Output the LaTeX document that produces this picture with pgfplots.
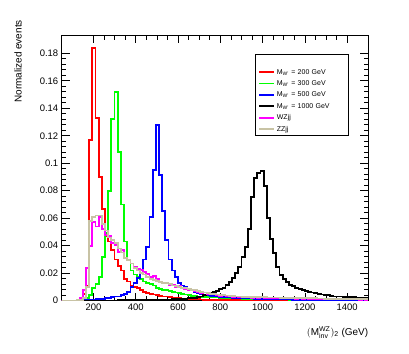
\documentclass[border=0pt]{standalone}
\usepackage{pgfplots}
\pgfplotsset{compat=1.18}
\usepackage{pgfplotstable}
\usepackage{fontspec}
\setmainfont{Liberation Sans}
\definecolor{zzcol}{RGB}{200,195,165}
\definecolor{rootgreen}{RGB}{0,255,0}
\definecolor{rootblue}{RGB}{0,0,255}
\definecolor{rootred}{RGB}{255,0,0}
\definecolor{rootmag}{RGB}{255,0,255}
\pgfplotstableread{
x r g b k wz zz
45 0 0 0 0 0 0
60 0 0 0 0 0 0
75 0 0 0 0 0 0
90 0 0 0 0 0 0
105 0.0002 0 0 0 0 0
120 0.0008 0 0 0 0.0005 0.0003
135 0.002 0 0.0001 0 0.002 0.0008
150 0.005 0.0005 0.0003 0 0.008 0.002
165 0.011 0.002 0.0004 0 0.024 0.010
180 0.117 0.004 0.0006 0 0.040 0.058
195 0.184 0.009 0.0008 0 0.0575 0.061
210 0.133 0.012 0.001 0.0001 0.054 0.062
225 0.090 0.0175 0.0012 0.0001 0.061 0.062
240 0.067 0.032 0.0015 0.0001 0.052 0.056
255 0.047 0.049 0.0017 0.0001 0.048 0.051
270 0.043 0.080 0.002 0.0002 0.047 0.046
285 0.037 0.132 0.0025 0.0002 0.042 0.044
300 0.030 0.152 0.003 0.0002 0.0406 0.042
315 0.025 0.108 0.003 0.0003 0.0357 0.038
330 0.022 0.070 0.004 0.0003 0.037 0.035
345 0.016 0.043 0.005 0.0003 0.031 0.031
360 0.014 0.030 0.0065 0.0004 0.0296 0.0296
375 0.011 0.022 0.010 0.0004 0.027 0.027
390 0.010 0.019 0.013 0.0004 0.0248 0.024
405 0.009 0.0175 0.0165 0.0005 0.023 0.022
420 0.0075 0.016 0.022 0.0005 0.0224 0.020
435 0.0065 0.014 0.030 0.0005 0.021 0.019
450 0.0055 0.013 0.039 0.0006 0.0195 0.017
465 0.005 0.012 0.061 0.0006 0.0175 0.016
480 0.0045 0.011 0.095 0.0007 0.018 0.015
495 0.004 0.009 0.128 0.0007 0.016 0.0145
510 0.0035 0.0085 0.0915 0.0008 0.0135 0.0138
525 0.003 0.008 0.065 0.0008 0.0127 0.013
540 0.003 0.0075 0.044 0.0009 0.013 0.0127
555 0.0025 0.007 0.030 0.0009 0.0114 0.012
570 0.0022 0.0065 0.022 0.001 0.0115 0.011
585 0.002 0.006 0.017 0.001 0.010 0.0105
600 0.0018 0.0055 0.0127 0.0012 0.0105 0.010
615 0.0016 0.005 0.011 0.0014 0.009 0.0095
630 0.0015 0.0045 0.010 0.0015 0.0085 0.009
645 0.0013 0.004 0.0085 0.0017 0.0077 0.0085
660 0.0012 0.0035 0.0077 0.0018 0.008 0.008
675 0.0011 0.0032 0.0065 0.002 0.007 0.0075
690 0.001 0.003 0.0055 0.0025 0.006 0.007
705 0.0009 0.0028 0.005 0.003 0.0055 0.0065
720 0.0008 0.0027 0.0045 0.004 0.006 0.006
735 0.0008 0.0026 0.004 0.0045 0.005 0.0055
750 0.0007 0.0025 0.0035 0.0055 0.0045 0.005
765 0.0007 0.0024 0.0032 0.0066 0.005 0.0048
780 0.0006 0.0023 0.003 0.007 0.004 0.0045
795 0.0006 0.0022 0.0027 0.0084 0.0035 0.0042
810 0.0005 0.0021 0.0025 0.0095 0.004 0.004
825 0.0005 0.002 0.0024 0.0114 0.003 0.0038
840 0.0005 0.0019 0.0023 0.0138 0.0032 0.0035
855 0.0004 0.0018 0.0022 0.0163 0.0028 0.0033
870 0.0004 0.0017 0.0021 0.020 0.003 0.003
885 0.0004 0.0016 0.002 0.0247 0.0025 0.003
900 0.0003 0.0015 0.0019 0.032 0.0027 0.0029
915 0.0003 0.0015 0.0018 0.039 0.0024 0.0028
930 0.0003 0.0014 0.0017 0.052 0.0026 0.0028
945 0.0003 0.0013 0.0016 0.0757 0.0022 0.0027
960 0.0002 0.0013 0.0015 0.089 0.0025 0.0026
975 0.0002 0.0012 0.0014 0.093 0.002 0.0026
990 0.0002 0.0012 0.0013 0.0946 0.0024 0.0025
1005 0.0002 0.0011 0.0012 0.0835 0.002 0.0025
1020 0.0002 0.0011 0.0012 0.060 0.0022 0.0024
1035 0.0002 0.001 0.0011 0.045 0.0019 0.0024
1050 0.0001 0.001 0.0011 0.0345 0.0021 0.0023
1065 0.0001 0.001 0.001 0.0247 0.0018 0.0023
1080 0.0001 0.0009 0.001 0.0187 0.002 0.0022
1095 0.0001 0.0009 0.0009 0.0155 0.0017 0.0022
1110 0.0001 0.0009 0.0009 0.0138 0.0019 0.0021
1125 0.0001 0.0008 0.0009 0.0114 0.0016 0.0021
1140 0.0001 0.0008 0.0008 0.0105 0.0018 0.002
1155 0.0001 0.0008 0.0008 0.009 0.0015 0.002
1170 0.0001 0.0007 0.0008 0.0085 0.0017 0.0019
1185 0.0001 0.0007 0.0007 0.008 0.0014 0.0019
1200 0.0001 0.0007 0.0007 0.007 0.0016 0.0018
1215 0.0001 0.0006 0.0007 0.0065 0.0013 0.0018
1230 0.0001 0.0006 0.0006 0.006 0.0015 0.0017
1245 0.0001 0.0006 0.0006 0.0055 0.0012 0.0017
1260 0.0001 0.0006 0.0006 0.005 0.0014 0.0016
1275 0.0001 0.0005 0.0006 0.0045 0.0012 0.0016
1290 0 0.0005 0.0005 0.004 0.0013 0.0015
1305 0 0.0005 0.0005 0.004 0.0011 0.0015
1320 0 0.0005 0.0005 0.0035 0.0013 0.0014
1335 0 0.0005 0.0005 0.003 0.001 0.0014
1350 0 0.0004 0.0004 0.003 0.0012 0.0013
1365 0 0.0004 0.0004 0.003 0.001 0.0013
1380 0 0.0004 0.0004 0.0028 0.0011 0.0012
1395 0 0.0004 0.0004 0.0027 0.0009 0.0012
1410 0 0.0004 0.0004 0.0025 0.0011 0.0012
1425 0 0.0004 0.0004 0.0025 0.0009 0.0011
1440 0 0.0003 0.0003 0.0023 0.001 0.0011
1455 0 0.0003 0.0003 0.002 0.0008 0.001
1470 0 0.0003 0.0003 0.002 0.001 0.001
1485 0 0.0003 0.0003 0.0018 0.0008 0.001
1500 0 0.0003 0.0003 0.0018 0.0008 0.001
}\histdata

\begin{document}
\begin{tikzpicture}
\path[use as bounding box] (-61.7bp,-53.3bp) rectangle (347.3bp,300.7bp);
\begin{axis}[
  scale only axis, width=306.6bp, height=265.7bp,
  xmin=50, xmax=1500, ymin=0, ymax=0.1933,
  xtick={200,400,600,800,1000,1200,1400},
  ytick={0,0.02,0.04,0.06,0.08,0.1,0.12,0.14,0.16,0.18},
  minor x tick num=3, minor y tick num=4,
  tick align=inside, xtick pos=both, ytick pos=both,
  major tick length=8bp, minor tick length=4.5bp,
  tick style={black, line width=0.6bp},
  axis line style={line width=0.8bp},
  /pgf/number format/assume math mode=true,
  /pgf/number format/1000 sep={},
  tick label style={font=\fontsize{9.5}{10}\selectfont},
  yticklabel style={/pgf/number format/fixed, /pgf/number format/precision=2},
  scaled y ticks=false, scaled x ticks=false,
  xlabel={$(\mathrm{M}^{\mathrm{WZ}}_{\mathrm{inv}})_{\mathrm{2}}$ (GeV)},
  xlabel style={font=\fontsize{10}{12}\selectfont, at={(axis description cs:1.0108,-0.085)}, anchor=north east},
  ylabel={Normalized events},
  ylabel style={font=\fontsize{10}{12}\selectfont, at={(axis description cs:-0.1187,1.069)}, anchor=south east},
  legend style={at={(0.630,0.927)}, anchor=north west, draw=black, line width=0.5bp, fill=white,
    font=\fontsize{7}{8}\selectfont, inner xsep=3bp, inner ysep=0.5bp, row sep=0.4bp,
    nodes={text width=66bp, text height=5.5bp, text depth=1.5bp, inner sep=2bp}},
  legend cell align=left,
  legend image code/.code={\draw[#1, line width=1.8bp] (0bp,0bp) -- (15bp,0bp);},
  every axis plot/.append style={const plot mark left, line width=1.8bp, no markers},
]
\addlegendimage{empty legend}\addlegendentry{}
\addplot[rootred] table[x=x,y=r]{\histdata};
\addlegendentry{M\textsubscript{W'} = 200 GeV}
\addplot[rootgreen] table[x=x,y=g]{\histdata};
\addlegendentry{M\textsubscript{W'} = 300 GeV}
\addplot[rootblue] table[x=x,y=b]{\histdata};
\addlegendentry{M\textsubscript{W'} = 500 GeV}
\addplot[black] table[x=x,y=k]{\histdata};
\addlegendentry{M\textsubscript{W'} = 1000 GeV}
\addplot[rootmag] table[x=x,y=wz]{\histdata};
\addlegendentry{WZjj}
\addplot[zzcol] table[x=x,y=zz]{\histdata};
\addlegendentry{ZZjj}
\end{axis}
\end{tikzpicture}
\end{document}
